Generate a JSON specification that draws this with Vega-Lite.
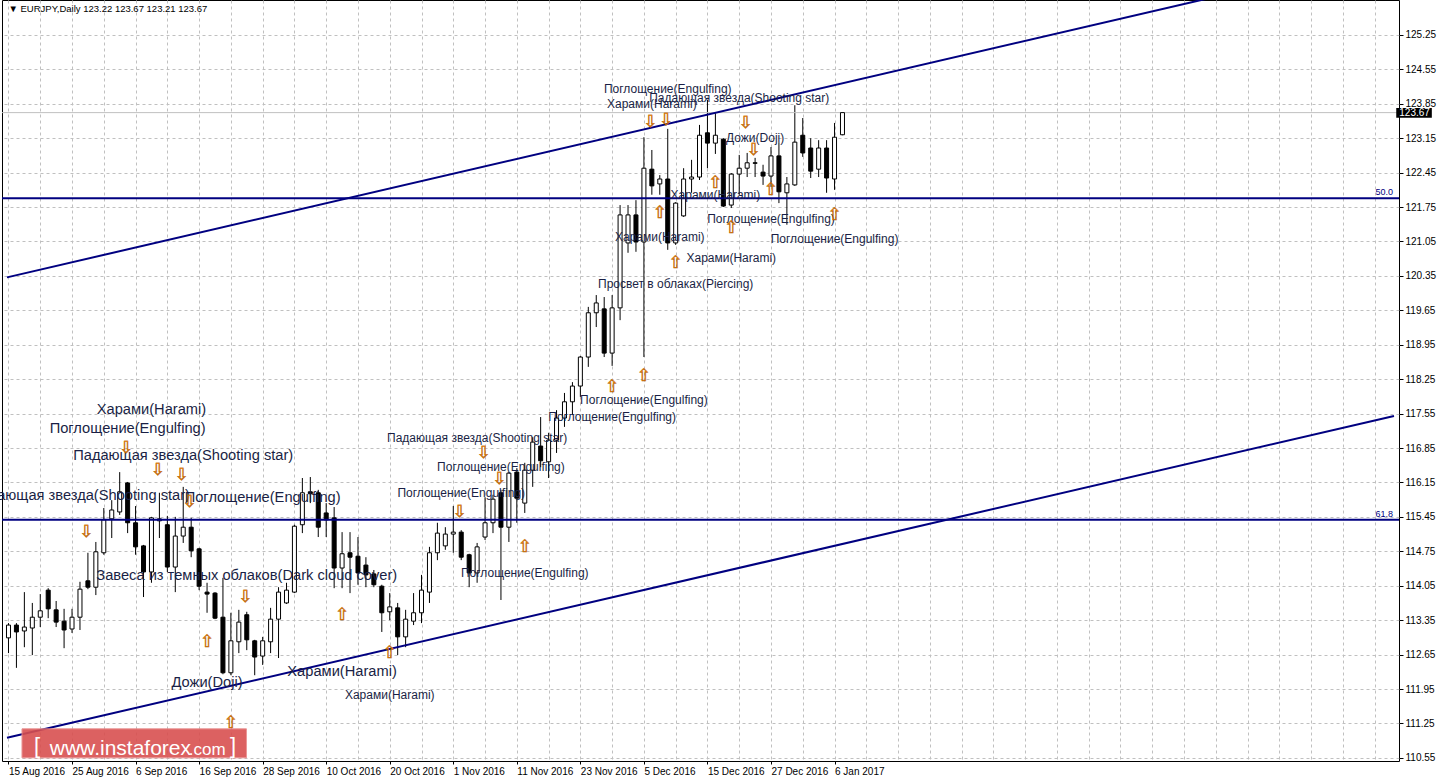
{
"$schema": "https://vega.github.io/schema/vega-lite/v6.json",
"width": 1397, "height": 761,
"autosize": {"type": "none"},
"padding": {"left": 2, "top": 0, "right": 40, "bottom": 20},
"background": "white",
"config": {"view": {"stroke": "#000000", "strokeWidth": 1}, "font": "Liberation Sans",
 "axis": {"labelOverlap": false, "labelBound": false, "labelFlush": false, "title": null}},
"datasets": {
"candles": [
{"i":0,"o":112.99,"h":113.29,"l":112.68,"c":113.25},
{"i":1,"o":113.25,"h":113.29,"l":112.38,"c":113.11},
{"i":2,"o":113.13,"h":113.92,"l":112.80,"c":113.21},
{"i":3,"o":113.19,"h":113.70,"l":112.64,"c":113.41},
{"i":4,"o":113.41,"h":113.88,"l":113.21,"c":113.54},
{"i":5,"o":113.96,"h":114.00,"l":113.39,"c":113.58},
{"i":6,"o":113.56,"h":113.74,"l":113.21,"c":113.31},
{"i":7,"o":113.33,"h":113.58,"l":112.78,"c":113.15},
{"i":8,"o":113.17,"h":113.58,"l":113.09,"c":113.41},
{"i":9,"o":113.41,"h":114.13,"l":113.15,"c":113.98},
{"i":10,"o":114.15,"h":114.72,"l":113.98,"c":114.02},
{"i":11,"o":114.02,"h":114.94,"l":113.86,"c":114.74},
{"i":12,"o":114.72,"h":115.63,"l":114.68,"c":115.39},
{"i":13,"o":115.41,"h":115.79,"l":115.02,"c":115.59},
{"i":14,"o":115.55,"h":116.36,"l":115.49,"c":115.96},
{"i":15,"o":116.14,"h":116.16,"l":115.12,"c":115.33},
{"i":16,"o":115.33,"h":115.67,"l":114.68,"c":114.84},
{"i":17,"o":114.86,"h":114.88,"l":113.82,"c":114.33},
{"i":18,"o":114.33,"h":115.45,"l":114.11,"c":115.43},
{"i":19,"o":115.37,"h":115.94,"l":115.02,"c":115.41},
{"i":20,"o":115.29,"h":115.47,"l":114.33,"c":114.43},
{"i":21,"o":114.43,"h":115.45,"l":113.92,"c":115.06},
{"i":22,"o":115.06,"h":116.06,"l":114.92,"c":115.24},
{"i":23,"o":115.24,"h":115.43,"l":114.63,"c":114.76},
{"i":24,"o":114.80,"h":114.82,"l":113.96,"c":114.04},
{"i":25,"o":113.92,"h":114.11,"l":113.50,"c":113.88},
{"i":26,"o":113.90,"h":113.92,"l":113.37,"c":113.39},
{"i":27,"o":113.41,"h":114.21,"l":112.25,"c":112.28},
{"i":28,"o":112.28,"h":113.50,"l":112.23,"c":112.93},
{"i":29,"o":112.91,"h":113.56,"l":112.68,"c":113.31},
{"i":30,"o":113.46,"h":113.52,"l":112.74,"c":112.95},
{"i":31,"o":112.93,"h":112.95,"l":112.23,"c":112.60},
{"i":32,"o":112.62,"h":113.01,"l":112.44,"c":112.93},
{"i":33,"o":112.91,"h":113.60,"l":112.68,"c":113.37},
{"i":34,"o":113.37,"h":114.02,"l":112.58,"c":113.92},
{"i":35,"o":113.70,"h":114.11,"l":113.68,"c":113.96},
{"i":36,"o":113.92,"h":115.29,"l":113.90,"c":115.26},
{"i":37,"o":115.29,"h":116.24,"l":115.12,"c":115.94},
{"i":38,"o":115.96,"h":116.26,"l":115.73,"c":115.92},
{"i":39,"o":115.94,"h":116.00,"l":115.04,"c":115.24},
{"i":40,"o":115.53,"h":115.73,"l":115.04,"c":115.39},
{"i":41,"o":115.43,"h":115.65,"l":114.00,"c":114.41},
{"i":42,"o":114.41,"h":115.14,"l":114.00,"c":114.70},
{"i":43,"o":114.72,"h":115.14,"l":113.90,"c":114.63},
{"i":44,"o":114.65,"h":115.04,"l":114.07,"c":114.31},
{"i":45,"o":114.47,"h":114.63,"l":114.02,"c":114.27},
{"i":46,"o":114.29,"h":114.37,"l":114.02,"c":114.07},
{"i":47,"o":114.04,"h":114.07,"l":113.11,"c":113.50},
{"i":48,"o":113.52,"h":113.90,"l":113.35,"c":113.62},
{"i":49,"o":113.60,"h":113.70,"l":112.64,"c":113.01},
{"i":50,"o":113.01,"h":113.56,"l":112.80,"c":113.37},
{"i":51,"o":113.33,"h":113.90,"l":113.25,"c":113.50},
{"i":52,"o":113.50,"h":114.27,"l":113.29,"c":113.96},
{"i":53,"o":113.92,"h":114.84,"l":113.70,"c":114.72},
{"i":54,"o":114.72,"h":115.33,"l":114.57,"c":115.12},
{"i":55,"o":114.86,"h":115.24,"l":114.78,"c":115.10},
{"i":56,"o":115.10,"h":115.67,"l":114.72,"c":115.14},
{"i":57,"o":115.14,"h":115.18,"l":114.57,"c":114.63},
{"i":58,"o":114.68,"h":114.70,"l":114.02,"c":114.31},
{"i":59,"o":114.31,"h":114.92,"l":114.11,"c":114.84},
{"i":60,"o":115.04,"h":115.85,"l":114.98,"c":115.33},
{"i":61,"o":115.33,"h":115.90,"l":115.12,"c":115.81},
{"i":62,"o":115.94,"h":116.00,"l":113.76,"c":115.24},
{"i":63,"o":115.24,"h":116.36,"l":114.94,"c":116.34},
{"i":64,"o":116.36,"h":116.44,"l":115.33,"c":115.83},
{"i":65,"o":115.73,"h":116.55,"l":115.53,"c":116.40},
{"i":66,"o":116.40,"h":117.07,"l":116.06,"c":116.97},
{"i":67,"o":116.89,"h":117.48,"l":116.46,"c":116.59},
{"i":68,"o":116.57,"h":117.16,"l":116.24,"c":117.01},
{"i":69,"o":117.01,"h":117.62,"l":116.75,"c":117.46},
{"i":70,"o":117.46,"h":117.97,"l":117.28,"c":117.79},
{"i":71,"o":117.79,"h":118.19,"l":117.52,"c":118.11},
{"i":72,"o":118.11,"h":118.72,"l":117.89,"c":118.70},
{"i":73,"o":118.70,"h":119.72,"l":118.50,"c":119.60},
{"i":74,"o":119.60,"h":119.96,"l":119.31,"c":119.80},
{"i":75,"o":119.68,"h":119.92,"l":118.70,"c":118.78},
{"i":76,"o":118.78,"h":119.96,"l":118.52,"c":119.70},
{"i":77,"o":119.70,"h":121.79,"l":119.45,"c":121.59},
{"i":78,"o":121.02,"h":121.79,"l":120.82,"c":121.59},
{"i":79,"o":121.59,"h":121.89,"l":120.84,"c":121.04},
{"i":80,"o":121.04,"h":123.17,"l":118.70,"c":122.54},
{"i":81,"o":122.52,"h":122.91,"l":122.00,"c":122.18},
{"i":82,"o":122.22,"h":122.40,"l":122.00,"c":122.32},
{"i":83,"o":122.32,"h":123.34,"l":120.88,"c":121.02},
{"i":84,"o":121.02,"h":121.85,"l":120.98,"c":121.83},
{"i":85,"o":121.57,"h":122.54,"l":121.55,"c":122.32},
{"i":86,"o":122.32,"h":122.71,"l":122.04,"c":122.36},
{"i":87,"o":122.36,"h":123.42,"l":122.30,"c":123.21},
{"i":88,"o":123.26,"h":123.93,"l":122.54,"c":123.05},
{"i":89,"o":123.05,"h":123.66,"l":122.83,"c":123.21},
{"i":90,"o":123.13,"h":123.15,"l":121.75,"c":121.77},
{"i":91,"o":121.79,"h":122.44,"l":121.73,"c":122.42},
{"i":92,"o":122.42,"h":122.81,"l":122.00,"c":122.54},
{"i":93,"o":122.54,"h":122.85,"l":122.36,"c":122.65},
{"i":94,"o":122.65,"h":122.75,"l":122.36,"c":122.64},
{"i":95,"o":122.46,"h":122.61,"l":122.20,"c":122.38},
{"i":96,"o":122.38,"h":122.97,"l":122.16,"c":122.79},
{"i":97,"o":122.79,"h":123.07,"l":121.83,"c":122.06},
{"i":98,"o":122.04,"h":122.36,"l":121.39,"c":122.22},
{"i":99,"o":122.20,"h":123.82,"l":122.18,"c":123.07},
{"i":100,"o":123.21,"h":123.56,"l":122.77,"c":122.85},
{"i":101,"o":122.95,"h":123.15,"l":122.34,"c":122.48},
{"i":102,"o":122.52,"h":123.11,"l":122.36,"c":122.95},
{"i":103,"o":122.95,"h":123.11,"l":122.04,"c":122.34},
{"i":104,"o":122.32,"h":123.46,"l":122.10,"c":123.17},
{"i":105,"o":123.22,"h":123.67,"l":123.21,"c":123.67}
],
"channel": [
{"line":"upper","i":-0.1875,"p":120.32},
{"line":"upper","i":174.4375,"p":126.87},
{"line":"lower","i":-0.1875,"p":110.96},
{"line":"lower","i":174.4375,"p":117.50}
],
"patternsLarge": [
{"t":"Харами(Harami)","i":18,"p":117.62},
{"t":"Поглощение(Engulfing)","i":15,"p":117.24},
{"t":"Падающая звезда(Shooting star)","i":22,"p":116.69},
{"t":"Падающая звезда(Shooting star)","i":9,"p":115.87},
{"t":"Поглощение(Engulfing)","i":32,"p":115.83},
{"t":"Завеса из темных облаков(Dark cloud cover)","i":30,"p":114.25},
{"t":"Дожи(Doji)","i":25,"p":112.07},
{"t":"Харами(Harami)","i":42,"p":112.30}
],
"patternsSmall": [
{"t":"Харами(Harami)","i":48,"p":111.83},
{"t":"Падающая звезда(Shooting star)","i":59,"p":117.05},
{"t":"Поглощение(Engulfing)","i":62,"p":116.46},
{"t":"Поглощение(Engulfing)","i":57,"p":115.94},
{"t":"Поглощение(Engulfing)","i":65,"p":114.31},
{"t":"Поглощение(Engulfing)","i":80,"p":117.83},
{"t":"Поглощение(Engulfing)","i":76,"p":117.48},
{"t":"Просвет в облаках(Piercing)","i":84,"p":120.19},
{"t":"Харами(Harami)","i":82,"p":121.14},
{"t":"Харами(Harami)","i":91,"p":120.71},
{"t":"Харами(Harami)","i":89,"p":122.00},
{"t":"Поглощение(Engulfing)","i":96,"p":121.51},
{"t":"Поглощение(Engulfing)","i":104,"p":121.10},
{"t":"Дожи(Doji)","i":94,"p":123.15},
{"t":"Падающая звезда(Shooting star)","i":92,"p":123.97},
{"t":"Поглощение(Engulfing)","i":83,"p":124.15},
{"t":"Харами(Harami)","i":81,"p":123.85}
],
"arrowsUp": [
{"i":25,"p":112.91},{"i":28,"p":111.26},{"i":42,"p":113.46},{"i":48,"p":112.68},
{"i":65,"p":114.84},{"i":76,"p":118.09},{"i":80,"p":118.31},{"i":82,"p":121.63},
{"i":84,"p":120.61},{"i":89,"p":122.24},{"i":91,"p":121.32},{"i":96,"p":122.10},
{"i":104,"p":121.59}
],
"arrowsDown": [
{"i":10,"p":115.14},{"i":15,"p":116.85},{"i":19,"p":116.40},{"i":22,"p":116.30},
{"i":23,"p":115.75},{"i":30,"p":113.82},{"i":57,"p":115.55},{"i":60,"p":116.75},
{"i":62,"p":116.22},{"i":81,"p":123.48},{"i":83,"p":123.52},{"i":93,"p":123.46},
{"i":94,"p":122.91}
]
},
"layer": [
{
"data": {"name": "candles"},
"mark": {"type": "rule", "color": "#000000", "strokeWidth": 1},
"encoding": {
"x": {"field": "i", "type": "quantitative", "scale": {"domain": [-0.1875, 174.4375], "nice": false, "zero": false},
 "axis": {"title": null, "orient": "bottom", "domain": false, "tickCount": 100,
  "values": [0,4,8,12,16,20,24,28,32,36,40,44,48,52,56,60,64,68,72,76,80,84,88,92,96,100,104,108,112,116,120,124,128,132,136,140,144,148,152,156,160,164,168,172],
  "labelExpr": "(datum.value % 8 === 0 && datum.value <= 104) ? ['15 Aug 2016','25 Aug 2016','6 Sep 2016','16 Sep 2016','28 Sep 2016','10 Oct 2016','20 Oct 2016','1 Nov 2016','11 Nov 2016','23 Nov 2016','5 Dec 2016','15 Dec 2016','27 Dec 2016','6 Jan 2017'][datum.value / 8] : ''",
  "labelAlign": "left", "labelFont": "Liberation Sans", "labelFontSize": 10, "labelColor": "#000000",
  "labelPadding": 2, "labelOverlap": false, "labelBound": false, "labelFlush": false,
  "tickSize": 3, "tickColor": "#000000",
  "tickOpacity": {"condition": {"test": "datum.value % 8 === 0 && datum.value <= 104", "value": 1}, "value": 0},
  "grid": true, "gridColor": "#c0c0c0", "gridDash": [3, 3], "gridWidth": 1}},
"y": {"field": "l", "type": "quantitative", "scale": {"domain": [110.486, 125.96], "nice": false, "zero": false},
 "axis": {"title": null, "orient": "right", "domain": false, "tickCount": 100,
  "values": [110.55,111.25,111.95,112.65,113.35,114.05,114.75,115.45,116.15,116.85,117.55,118.25,118.95,119.65,120.35,121.05,121.75,122.45,123.15,123.85,124.55,125.25],
  "format": ".2f", "labelFont": "Liberation Sans", "labelFontSize": 10, "labelColor": "#000000",
  "labelPadding": 2, "labelOverlap": false, "labelBound": false, "labelFlush": false,
  "tickSize": 4, "tickColor": "#000000",
  "grid": true, "gridColor": "#c0c0c0", "gridDash": [3, 3], "gridWidth": 1}},
"y2": {"field": "h"}
}
},
{
"data": {"values": [{}]},
"mark": {"type": "rule", "color": "#c0c0c0", "strokeWidth": 1},
"encoding": {"y": {"datum": 123.67}}
},
{
"data": {"name": "candles"},
"mark": {"type": "bar", "size": 4, "stroke": "#000000", "strokeWidth": 1},
"encoding": {
"x": {"field": "i", "type": "quantitative"},
"y": {"field": "o", "type": "quantitative"},
"y2": {"field": "c"},
"fill": {"condition": {"test": "datum.c >= datum.o", "value": "#ffffff"}, "value": "#000000"}
}
},
{
"data": {"values": [{"lvl": 121.93}, {"lvl": 115.39}]},
"mark": {"type": "rule", "color": "#000080", "strokeWidth": 2},
"encoding": {"y": {"field": "lvl", "type": "quantitative"}}
},
{
"data": {"values": [{"lvl": 121.93, "t": "50.0"}, {"lvl": 115.39, "t": "61.8"}]},
"mark": {"type": "text", "color": "#000080", "fontSize": 9, "align": "right", "baseline": "bottom", "dy": -1, "font": "Liberation Sans"},
"encoding": {
"x": {"datum": 174.3},
"y": {"field": "lvl", "type": "quantitative"},
"text": {"field": "t"}
}
},
{
"data": {"name": "channel"},
"mark": {"type": "line", "color": "#000080", "strokeWidth": 2, "clip": true},
"encoding": {
"x": {"field": "i", "type": "quantitative"},
"y": {"field": "p", "type": "quantitative"},
"detail": {"field": "line"}
}
},
{
"data": {"name": "patternsLarge"},
"mark": {"type": "text", "font": "Liberation Sans", "fontSize": 14.67, "color": "#1a1f45", "align": "center", "baseline": "middle"},
"encoding": {
"x": {"field": "i", "type": "quantitative"},
"y": {"field": "p", "type": "quantitative"},
"text": {"field": "t"}
}
},
{
"data": {"name": "patternsSmall"},
"mark": {"type": "text", "font": "Liberation Sans", "fontSize": 12, "color": "#1a1f45", "align": "center", "baseline": "middle"},
"encoding": {
"x": {"field": "i", "type": "quantitative"},
"y": {"field": "p", "type": "quantitative"},
"text": {"field": "t"}
}
},
{
"data": {"name": "arrowsUp"},
"mark": {"type": "text", "text": "⇧", "font": "DejaVu Sans", "fontSize": 17, "color": "#ff8c00", "stroke": "#a05000", "strokeWidth": 0.4, "align": "center", "baseline": "middle"},
"encoding": {
"x": {"field": "i", "type": "quantitative"},
"y": {"field": "p", "type": "quantitative"}
}
},
{
"data": {"name": "arrowsDown"},
"mark": {"type": "text", "text": "⇩", "font": "DejaVu Sans", "fontSize": 17, "color": "#ff8c00", "stroke": "#a05000", "strokeWidth": 0.4, "align": "center", "baseline": "middle", "dx": -1.5},
"encoding": {
"x": {"field": "i", "type": "quantitative"},
"y": {"field": "p", "type": "quantitative"}
}
},
{
"data": {"values": [{}]},
"mark": {"type": "text", "text": "▼ EURJPY,Daily  123.22 123.67 123.21 123.67", "font": "Liberation Sans", "fontSize": 9.5, "color": "#000000", "align": "left", "baseline": "middle"},
"encoding": {
"x": {"datum": 0.0},
"y": {"datum": 125.78}
}
},
{
"data": {"values": [{}]},
"mark": {"type": "rect", "color": "#000000"},
"encoding": {
"x": {"datum": 174.72},
"x2": {"datum": 179.2},
"y": {"datum": 123.765},
"y2": {"datum": 123.565}
}
},
{
"data": {"values": [{}]},
"mark": {"type": "text", "text": "123.67", "font": "Liberation Sans", "fontSize": 10, "color": "#ffffff", "align": "left", "baseline": "middle"},
"encoding": {
"x": {"datum": 175.1},
"y": {"datum": 123.67}
}
},
{
"data": {"values": [{}]},
"mark": {"type": "rect", "color": "#d95050", "opacity": 0.9, "stroke": "#e88a8a", "strokeWidth": 1},
"encoding": {
"x": {"datum": 1.7},
"x2": {"datum": 29.96},
"y": {"datum": 111.14},
"y2": {"datum": 110.55}
}
},
{
"data": {"values": [{}]},
"mark": {"type": "text", "text": "www.instaforex", "font": "Liberation Sans", "fontSize": 21, "color": "#ffffff", "align": "left", "baseline": "alphabetic"},
"encoding": {
"x": {"datum": 5.2},
"y": {"datum": 110.61}
}
},
{
"data": {"values": [{}]},
"mark": {"type": "text", "text": ".com", "font": "Liberation Sans", "fontSize": 17, "color": "#ffffff", "align": "left", "baseline": "alphabetic"},
"encoding": {
"x": {"datum": 22.7},
"y": {"datum": 110.61}
}
},
{
"data": {"values": [{}]},
"mark": {"type": "text", "text": "[", "font": "Liberation Sans", "fontSize": 22, "color": "#ffffff", "align": "left", "baseline": "alphabetic"},
"encoding": {
"x": {"datum": 3.2},
"y": {"datum": 110.64}
}
},
{
"data": {"values": [{}]},
"mark": {"type": "text", "text": "]", "font": "Liberation Sans", "fontSize": 22, "color": "#ffffff", "align": "left", "baseline": "alphabetic"},
"encoding": {
"x": {"datum": 27.9},
"y": {"datum": 110.64}
}
}
]
}
